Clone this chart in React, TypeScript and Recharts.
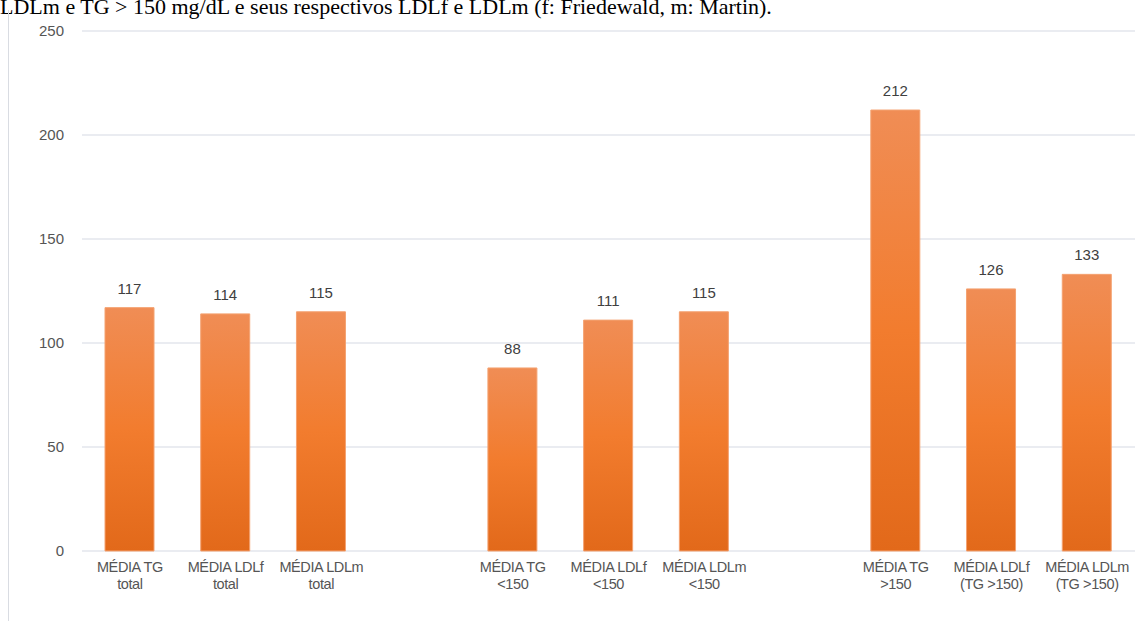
import React from "react";
import { BarChart, Bar, XAxis, YAxis, CartesianGrid, LabelList } from "recharts";

const titleText = "LDLm e TG > 150 mg/dL e seus respectivos LDLf e LDLm (f: Friedewald, m: Martin).";
const line1Labels = ["MÉDIA TG", "MÉDIA LDLf", "MÉDIA LDLm", "", "MÉDIA TG", "MÉDIA LDLf", "MÉDIA LDLm", "", "MÉDIA TG", "MÉDIA LDLf", "MÉDIA LDLm"];
const line2Labels = ["total", "total", "total", "", "<150", "<150", "<150", "", ">150", "(TG >150)", "(TG >150)"];
const values: (number | null)[] = [117, 114, 115, null, 88, 111, 115, null, 212, 126, 133];
const yTicks = [0, 50, 100, 150, 200, 250];

const data = values.map((v, i) => ({ key: "c" + i, idx: i, value: v }));

const XTick = (props: any) => {
  const { x, y, payload } = props;
  const i = payload.index;
  const l1 = line1Labels[i];
  const l2 = line2Labels[i];
  if (!l1) return null;
  return (
    <g>
      <text x={x} y={y + 21} textAnchor="middle" fontFamily="Liberation Sans, Arial, sans-serif" fontSize={14.5} fill="#555" letterSpacing={-0.4}>
        {l1}
      </text>
      <text x={x} y={y + 38} textAnchor="middle" fontFamily="Liberation Sans, Arial, sans-serif" fontSize={14.5} fill="#555" letterSpacing={-0.4}>
        {l2}
      </text>
    </g>
  );
};

const ValueLabel = (props: any) => {
  const { x, y, width, value } = props;
  if (value === null || value === undefined) return null;
  return (
    <text x={x + width / 2} y={y - 14} textAnchor="middle" fontFamily="Liberation Sans, Arial, sans-serif" fontSize={15} fill="#404040">
      {value}
    </text>
  );
};

export default function App() {
  return (
    <div style={{ position: "absolute", left: 0, top: 0, width: 1135, height: 621, background: "#fff", overflow: "hidden" }}>
      <div
        style={{
          position: "absolute",
          left: 0,
          top: -3,
          fontFamily: "'Liberation Serif', 'Times New Roman', serif",
          fontSize: 22,
          lineHeight: "20px",
          color: "#000",
          whiteSpace: "nowrap",
        }}
      >
        {titleText}
      </div>
      <div style={{ position: "absolute", left: 8, top: 10, width: 1, height: 611, background: "#d9dce2" }} />
      <div style={{ position: "absolute", left: 0, top: 0 }}>
        <BarChart width={1135} height={621} data={data} margin={{ top: 31, right: 0, bottom: 0, left: 0 }} barCategoryGap={0}>
          <defs>
            <linearGradient id="barGrad" x1="0" y1="0" x2="0" y2="1">
              <stop offset="0%" stopColor="#F08D55" />
              <stop offset="50%" stopColor="#F27C2E" />
              <stop offset="100%" stopColor="#E2691A" />
            </linearGradient>
          </defs>
          <CartesianGrid vertical={false} stroke="#e3e6ec" strokeWidth={1.5} />
          <XAxis dataKey="key" axisLine={false} tickLine={false} tickSize={0} tickMargin={0} height={70} interval={0} tick={<XTick />} />
          <YAxis
            type="number"
            domain={[0, 250]}
            ticks={yTicks}
            width={82}
            axisLine={false}
            tickLine={false}
            tickSize={0}
            tickMargin={18}
            tick={{ fontFamily: "Liberation Sans, Arial, sans-serif", fontSize: 15, fill: "#555" }}
          />
          <Bar dataKey="value" fill="url(#barGrad)" barSize={49} stroke="#F4A271" strokeWidth={1} isAnimationActive={false}>
            <LabelList dataKey="value" content={<ValueLabel />} />
          </Bar>
        </BarChart>
      </div>
    </div>
  );
}
